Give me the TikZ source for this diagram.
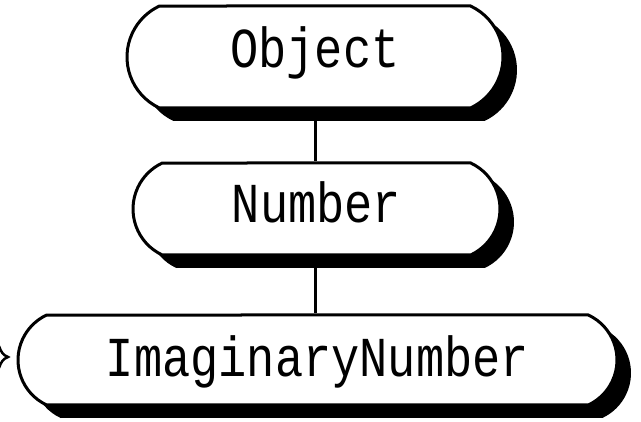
\documentclass[tikz,border=0pt]{standalone}
\usepackage{fontspec}
\setmonofont{Liberation Mono}
\usetikzlibrary{shapes.misc,shadows}
\begin{document}
\begin{tikzpicture}[x=1pt,y=-1pt,
  pill/.style={rounded rectangle, rounded rectangle arc length=130, draw=black, line width=3pt, fill=white, inner sep=0pt,
    drop shadow={shadow xshift=14pt, shadow yshift=-13pt, fill=black, opacity=1},
    font=\ttfamily\fontsize{47}{50}\selectfont},
  link/.style={draw=black, line width=3pt}]
\useasboundingbox (0,0) rectangle (641,422);
\node[pill, minimum width=376pt, minimum height=102pt, text height=62pt, text depth=40pt] (obj) at (315,57) {\scalebox{1}[1.2]{Object}};
\node[pill, minimum width=367pt, minimum height=92pt, text height=60pt, text depth=32pt] (num) at (316.5,209) {\scalebox{1}[1.2]{Number}};
\node[pill, minimum width=599pt, minimum height=90pt, text height=62pt, text depth=28pt] (img) at (317.5,360) {\scalebox{1}[1.2]{ImaginaryNumber}};
\draw[link] (obj.south) -- (obj.south |- num.north);
\draw[link] (obj.south |- num.south) -- (obj.south |- img.north);
\draw[line width=2.5pt] (-1,346) .. controls (1,352) and (3,355) .. (8,357) .. controls (3,359) and (1,362) .. (-1,368);
\end{tikzpicture}
\end{document}
